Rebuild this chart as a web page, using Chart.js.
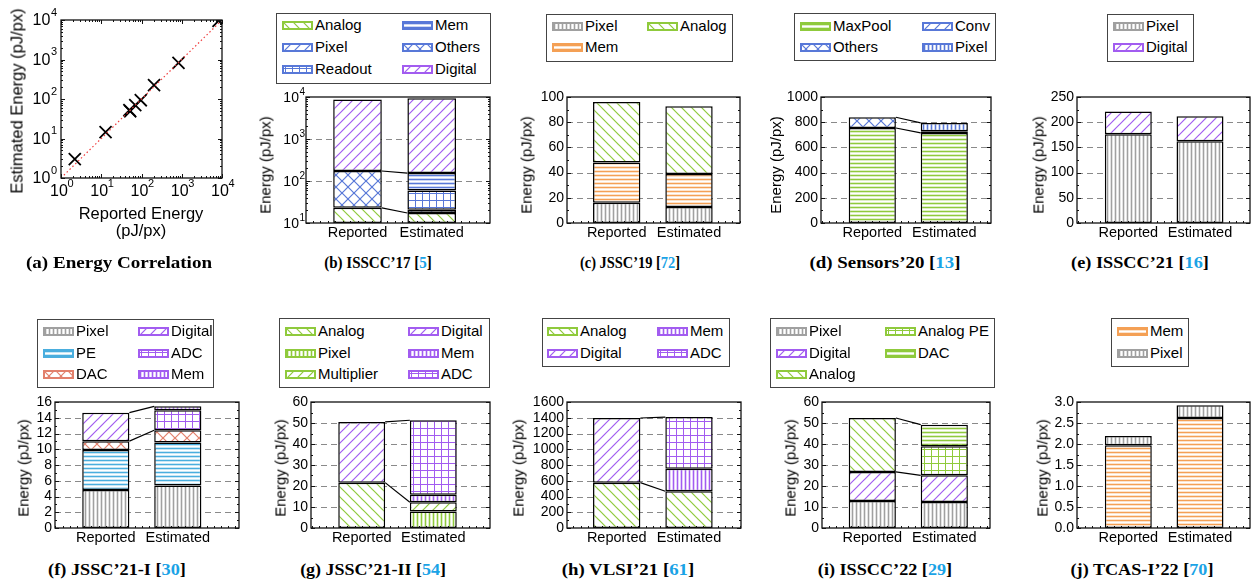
<!DOCTYPE html>
<html>
<head>
<meta charset="utf-8">
<script src="https://cdn.jsdelivr.net/npm/chart.js@4.4.0/dist/chart.umd.min.js"></script>
<style>
body { margin:0; width:1257px; height:585px; position:relative; overflow:hidden; background:#fff; font-family:'Liberation Sans', Arial, sans-serif; color:#000; }
.legend { position:absolute; border:1px solid #444; box-sizing:border-box; background:#fff; }
.lgtext { position:absolute; font-size:15px; line-height:18px; white-space:nowrap; }
.yt { position:absolute; transform:translate(-50%,-50%) rotate(-90deg); white-space:nowrap; font-size:15px; }
.xt { position:absolute; transform:translate(-50%,-50%); white-space:nowrap; font-size:16.5px; }
.cap { position:absolute; white-space:nowrap; font-family:'Liberation Serif', 'Times New Roman', serif; font-weight:bold; font-size:16px; }
.ref { color:#1aa3e6; }
</style>
</head>
<body>
<script>
// ---- data (pJ/px) ----
const barLabels = ['Reported', 'Estimated'];

// (a) energy correlation
const corrReported  = [2.2, 12.8, 50, 52.5, 70, 96, 205, 830, 8200];
const corrEstimated = [3.0, 14.5, 52, 49, 70, 93, 225, 820, 9500];
const corrDiagonal  = [1, 10000];
const logDecades    = [1, 10, 100, 1000, 10000];

// (b) ISSCC'17
const isscc17Parts     = ['Analog', 'Pixel', 'Readout', 'Mem', 'Others', 'Digital'];
const isscc17Reported  = [23, null, null, null, 150, 8530];
const isscc17Estimated = [17.3, 3.5, 39, 95, null, 9150];

// (c) JSSC'19
const jssc19Parts     = ['Pixel', 'Mem', 'Analog'];
const jssc19Reported  = [16, 32, 48];
const jssc19Estimated = [12.7, 26.2, 53.7];

// (d) Sensors'20
const sensors20Parts     = ['MaxPool', 'Others', 'Conv', 'Pixel'];
const sensors20Reported  = [754, 85, null, null];
const sensors20Estimated = [715, null, 14, 65];

// (e) ISSCC'21
const isscc21Parts     = ['Pixel', 'Digital'];
const isscc21Reported  = [176, 45];
const isscc21Estimated = [162, 50];

// (f) JSSC'21-I
const jssc21aParts     = ['Pixel', 'PE', 'DAC', 'Digital', 'ADC', 'Mem'];
const jssc21aReported  = [4.84, 5.05, 1.14, 3.62, null, null];
const jssc21aEstimated = [5.39, 5.47, 1.56, null, 2.53, 0.5];

// (g) JSSC'21-II
const jssc21bParts     = ['Analog', 'Pixel', 'Multiplier', 'Digital', 'Mem', 'ADC'];
const jssc21bReported  = [21.6, null, null, 28.9, null, null];
const jssc21bEstimated = [null, 7.9, 4.4, null, 3.5, 35.5];

// (h) VLSI'21
const vlsi21Parts     = ['Analog', 'Digital', 'Mem', 'ADC'];
const vlsi21Reported  = [576, 821, null, null];
const vlsi21Estimated = [466, null, 287, 656];

// (i) ISSCC'22
const isscc22Parts     = ['Pixel', 'Digital', 'Analog', 'Analog PE', 'DAC'];
const isscc22Reported  = [12.9, 13.8, 25.7, null, null];
const isscc22Estimated = [12.4, 12.7, null, 13.8, 10.3];

// (j) TCAS-I'22
const tcas22Parts     = ['Mem', 'Pixel'];
const tcas22Reported  = [1.97, 0.22];
const tcas22Estimated = [2.62, 0.30];

// ---- styles ----
const FONT = "'Liberation Sans', Arial, sans-serif";
const GREEN = '#8fca3c', BLUE = '#5878d8', PURPLE = '#a25cf0', GRAY = '#a0a0a0',
      ORANGE = '#f4a055', CYAN = '#4aaede', SALMON = '#e2806c';

Chart.defaults.font.family = FONT;
Chart.defaults.color = '#000';

const panels = [
  { parts: isscc17Parts, rep: isscc17Reported, est: isscc17Estimated,
    hatch: [['back', GREEN], ['fwd', BLUE], ['grid', BLUE], ['horiz', BLUE], ['cross', BLUE], ['fwd', PURPLE]],
    y: { type: 'logarithmic', min: 10, max: 10000 }, links: [[4, 3], [0, 0]],
    box: { L: 306, T: 97, R: 490, B: 223, c1: 357.5, c2: 431.7 },
    legend: { x1: 276, y1: 13, x2: 491, y2: 84, cols: [282, 402], rows: [25, 47.5, 69.5], perCol: 3 },
    yTitle: [265, 165], cap: ['(b) ISSCC’17 [', '5', ']', 378, 263, 108] },
  { parts: jssc19Parts, rep: jssc19Reported, est: jssc19Estimated,
    hatch: [['vert', GRAY], ['horiz', ORANGE], ['back', GREEN]],
    y: { type: 'linear', min: 0, max: 100, step: 20 }, links: [],
    box: { L: 567, T: 97, R: 740, B: 223, c1: 616.7, c2: 689 },
    legend: { x1: 546, y1: 14, x2: 733, y2: 62, cols: [552, 647], rows: [26, 47.5], perCol: 2 },
    yTitle: [526, 165], cap: ['(c) JSSC’19 [', '72', ']', 630, 263, 100] },
  { parts: sensors20Parts, rep: sensors20Reported, est: sensors20Estimated,
    hatch: [['horiz', GREEN], ['cross', BLUE], ['fwd', BLUE], ['vert', BLUE]],
    y: { type: 'linear', min: 0, max: 1000, step: 200 }, links: [[1, 3], [0, 0]],
    box: { L: 821, T: 97, R: 991, B: 223, c1: 872.3, c2: 944.3 },
    legend: { x1: 794, y1: 13, x2: 996, y2: 61, cols: [800, 922], rows: [26, 47.5], perCol: 2 },
    yTitle: [775, 165], cap: ['(d) Sensors’20 [', '13', ']', 885, 263, 151] },
  { parts: isscc21Parts, rep: isscc21Reported, est: isscc21Estimated,
    hatch: [['vert', GRAY], ['fwd', PURPLE]],
    y: { type: 'linear', min: 0, max: 250, step: 50 }, links: [],
    box: { L: 1077, T: 97, R: 1250, B: 223, c1: 1128.3, c2: 1200 },
    legend: { x1: 1107, y1: 14, x2: 1194, y2: 62, cols: [1113], rows: [26, 47.5], perCol: 2 },
    yTitle: [1038, 165], cap: ['(e) ISSCC’21 [', '16', ']', 1140, 263, 138] },
  { parts: jssc21aParts, rep: jssc21aReported, est: jssc21aEstimated,
    hatch: [['vert', GRAY], ['horiz', CYAN], ['cross', SALMON], ['fwd', PURPLE], ['grid', PURPLE], ['vert', PURPLE]],
    y: { type: 'linear', min: 0, max: 16, step: 2 }, links: [[3, 5], [2, 2]],
    box: { L: 55, T: 402, R: 239, B: 528, c1: 105.8, c2: 177.8 },
    legend: { x1: 37, y1: 319, x2: 214, y2: 388, cols: [43, 138], rows: [331.5, 353, 374.5], perCol: 3 },
    yTitle: [23, 468], cap: ['(f) JSSC’21-I [', '30', ']', 117, 570, 138] },
  { parts: jssc21bParts, rep: jssc21bReported, est: jssc21bEstimated,
    hatch: [['back', GREEN], ['vert', GREEN], ['fwd', GREEN], ['fwd', PURPLE], ['vert', PURPLE], ['grid', PURPLE]],
    y: { type: 'linear', min: 0, max: 60, step: 10 }, links: [[3, 5], [0, 2]],
    box: { L: 311, T: 402, R: 490, B: 528, c1: 361.7, c2: 433.3 },
    legend: { x1: 279, y1: 318, x2: 490, y2: 388, cols: [285, 408], rows: [331.5, 353, 374.5], perCol: 3 },
    yTitle: [280, 468], cap: ['(g) JSSC’21-II [', '54', ']', 373, 570, 146] },
  { parts: vlsi21Parts, rep: vlsi21Reported, est: vlsi21Estimated,
    hatch: [['back', GREEN], ['fwd', PURPLE], ['vert', PURPLE], ['grid', PURPLE]],
    y: { type: 'linear', min: 0, max: 1600, step: 200 }, links: [[1, 3], [0, 0]],
    box: { L: 567, T: 402, R: 741, B: 528, c1: 616.7, c2: 689 },
    legend: { x1: 542, y1: 318, x2: 730, y2: 367, cols: [547, 657], rows: [331.5, 353], perCol: 2 },
    yTitle: [518, 468], cap: ['(h) VLSI’21 [', '61', ']', 628, 570, 133] },
  { parts: isscc22Parts, rep: isscc22Reported, est: isscc22Estimated,
    hatch: [['vert', GRAY], ['fwd', PURPLE], ['back', GREEN], ['grid', GREEN], ['horiz', GREEN]],
    y: { type: 'linear', min: 0, max: 60, step: 10 }, links: [[2, 4], [1, 1]],
    box: { L: 822, T: 402, R: 990, B: 528, c1: 872.3, c2: 944.3 },
    legend: { x1: 770, y1: 318, x2: 995, y2: 388, cols: [776, 885], rows: [331.5, 353, 374.5], perCol: 3 },
    yTitle: [790, 468], cap: ['(i) ISSCC’22 [', '29', ']', 885, 570, 134] },
  { parts: tcas22Parts, rep: tcas22Reported, est: tcas22Estimated,
    hatch: [['horiz', ORANGE], ['vert', GRAY]],
    y: { type: 'linear', min: 0, max: 3, step: 0.5, decimals: 1 }, links: [],
    box: { L: 1077, T: 402, R: 1250, B: 528, c1: 1128.3, c2: 1200 },
    legend: { x1: 1111, y1: 318, x2: 1189, y2: 367, cols: [1117], rows: [331.5, 353], perCol: 2 },
    yTitle: [1042, 468], cap: ['(j) TCAS-I’22 [', '70', ']', 1142, 570, 143] },
];

// ---- helpers ----
function hatchTile(kind, color) {
  const s = { back: 10, fwd: 10, cross: 12, vert: 4, horiz: 4, grid: 7 }[kind];
  const c = document.createElement('canvas');
  c.width = c.height = s;
  const g = c.getContext('2d');
  g.fillStyle = '#fff';
  g.fillRect(0, 0, s, s);
  g.strokeStyle = color;
  g.lineWidth = 1.2;
  const line = (x1, y1, x2, y2) => { g.beginPath(); g.moveTo(x1, y1); g.lineTo(x2, y2); g.stroke(); };
  if (kind === 'fwd' || kind === 'cross') { line(-1, s + 1, s + 1, -1); line(-1, 1, 1, -1); line(s - 1, s + 1, s + 1, s - 1); }
  if (kind === 'back' || kind === 'cross') { line(-1, -1, s + 1, s + 1); line(s - 1, -1, s + 1, 1); line(-1, s - 1, 1, s + 1); }
  const m = Math.floor(s / 2) + 0.5;
  g.lineWidth = kind === 'grid' ? 1 : 1.6;
  if (kind === 'vert' || kind === 'grid') line(m, 0, m, s);
  if (kind === 'horiz' || kind === 'grid') line(0, m, s, m);
  return c;
}

function addDiv(cls, html, style) {
  const d = document.createElement('div');
  d.className = cls;
  d.innerHTML = html;
  Object.assign(d.style, style);
  document.body.appendChild(d);
  return d;
}

function makeCanvas(x, y, w, h) {
  const cv = document.createElement('canvas');
  cv.width = w; cv.height = h;
  Object.assign(cv.style, { position: 'absolute', left: x + 'px', top: y + 'px', width: w + 'px', height: h + 'px' });
  document.body.appendChild(cv);
  return cv;
}

function addLegend(p) {
  const lg = p.legend;
  addDiv('legend', '', { left: lg.x1 + 'px', top: lg.y1 + 'px', width: (lg.x2 - lg.x1) + 'px', height: (lg.y2 - lg.y1) + 'px' });
  p.parts.forEach((name, i) => {
    const cx = lg.cols[Math.floor(i / lg.perCol)], cy = lg.rows[i % lg.perCol];
    const sw = makeCanvas(cx, Math.round(cy - 4.5), 31, 9);
    const g = sw.getContext('2d');
    g.fillStyle = g.createPattern(hatchTile(p.hatch[i][0], p.hatch[i][1]), 'repeat');
    g.fillRect(0, 0, 31, 9);
    g.strokeStyle = p.hatch[i][1];
    g.lineWidth = 2;
    g.strokeRect(1, 1, 29, 7);
    addDiv('lgtext', name, { left: (cx + 33) + 'px', top: (cy - 9.5) + 'px' });
  });
}

function addCaption(c) {
  const d = addDiv('cap', c[0] + '<span class="ref">' + c[1] + '</span>' + c[2], {});
  const k = c[5] / d.offsetWidth;
  d.style.left = c[3] + 'px';
  d.style.top = c[4] + 'px';
  d.style.transform = 'translate(-50%,-50%) scaleX(' + k.toFixed(3) + ')';
}

const cumulative = (arr, k) => arr.slice(0, k + 1).reduce((s, v) => s + (v || 0), 0);

function logLabelsY(ctx, scale, a, size, supSize, gap, supDy) {
  ctx.fillStyle = '#000';
  ctx.textBaseline = 'middle';
  scale.ticks.forEach(t => {
    const py = scale.getPixelForValue(t.value);
    const e = String(Math.round(Math.log10(t.value)));
    ctx.font = supSize + 'px ' + FONT;
    const sx = a.left - gap - ctx.measureText(e).width;
    ctx.textAlign = 'left';
    ctx.fillText(e, sx, py - supDy);
    ctx.font = size + 'px ' + FONT;
    ctx.textAlign = 'right';
    ctx.fillText('10', sx - 0.5, py + 1);
  });
}

function logLabelsX(ctx, scale, a, size, supSize) {
  ctx.fillStyle = '#000';
  ctx.textBaseline = 'middle';
  scale.ticks.forEach(t => {
    const px = scale.getPixelForValue(t.value) - 2;
    const e = String(Math.round(Math.log10(t.value)));
    ctx.font = size + 'px ' + FONT;
    const w = ctx.measureText('10').width;
    ctx.textAlign = 'center';
    ctx.fillText('10', px, a.bottom + 14);
    ctx.font = supSize + 'px ' + FONT;
    ctx.textAlign = 'left';
    ctx.fillText(e, px + w / 2 - 0.5, a.bottom + 5.5);
  });
}

function tickMarks(ctx, a, scale, values, len, vertical, both) {
  values.forEach(v => {
    if (vertical) {
      const py = Math.round(scale.getPixelForValue(v)) + 0.5;
      ctx.beginPath(); ctx.moveTo(a.left, py); ctx.lineTo(a.left + len, py);
      if (both) { ctx.moveTo(a.right, py); ctx.lineTo(a.right - len, py); }
      ctx.stroke();
    } else {
      const px = Math.round(scale.getPixelForValue(v)) + 0.5;
      ctx.beginPath(); ctx.moveTo(px, a.bottom); ctx.lineTo(px, a.bottom - len);
      if (both) { ctx.moveTo(px, a.top); ctx.lineTo(px, a.top + len); }
      ctx.stroke();
    }
  });
}

function logMinors(min, max) {
  const out = [];
  for (let d = min; d < max; d *= 10) for (let k = 2; k <= 9; k++) out.push(d * k);
  return out;
}

function frame(ctx, a) {
  ctx.strokeStyle = '#111';
  ctx.lineWidth = 1.3;
  ctx.strokeRect(a.left, a.top, a.right - a.left, a.bottom - a.top);
}

// ---- stacked bar panels ----
function buildBarPanel(p) {
  const b = p.box, padL = 48, padT = 12, padR = 4, padB = 26;
  const W = b.R - b.L + padL + padR, H = b.B - b.T + padT + padB;
  const cv = makeCanvas(b.L - padL, b.T - padT, W, H);
  const ctx = cv.getContext('2d');
  const unit = b.c2 - b.c1;
  const isLog = p.y.type === 'logarithmic';

  const datasets = p.parts.map((name, i) => ({
    label: name,
    data: [p.rep[i], p.est[i]],
    backgroundColor: ctx.createPattern(hatchTile(p.hatch[i][0], p.hatch[i][1]), 'repeat'),
    borderColor: '#000',
    borderWidth: 1.5,
    borderSkipped: false,
    inflateAmount: 0,
    categoryPercentage: 1,
    barPercentage: 0.655,
  }));

  const yScale = {
    type: p.y.type, min: p.y.min, max: p.y.max, stacked: true,
    grid: { display: false, drawTicks: false }, border: { display: false },
    afterFit: s => { s.width = padL; },
    ticks: {
      font: { size: 14 }, padding: 3, color: '#000', autoSkip: false,
      stepSize: p.y.step,
      callback: v => isLog ? '' : v.toFixed(p.y.decimals || 0),
    },
  };
  if (isLog) yScale.afterBuildTicks = s => { s.ticks = logDecades.filter(v => v >= p.y.min).map(v => ({ value: v })); };

  const deco = {
    id: 'deco',
    beforeDatasetsDraw(chart) {
      const { ctx: c, chartArea: a, scales: { y } } = chart;
      c.save();
      c.strokeStyle = '#8a8a8a';
      c.lineWidth = 1;
      c.setLineDash([6, 4]);
      y.ticks.forEach(t => {
        if (t.value <= y.min || t.value >= y.max) return;
        const py = Math.round(y.getPixelForValue(t.value)) + 0.5;
        c.beginPath(); c.moveTo(a.left, py); c.lineTo(a.right, py); c.stroke();
      });
      c.restore();
    },
    afterDatasetsDraw(chart) {
      const { ctx: c, chartArea: a, scales: { x, y } } = chart;
      c.save();
      // connectors between matching stack levels
      c.strokeStyle = '#000';
      c.lineWidth = 1.2;
      p.links.forEach(([ri, ei]) => {
        const rb = chart.getDatasetMeta(ri).data[0], eb = chart.getDatasetMeta(ei).data[1];
        c.beginPath();
        c.moveTo(rb.x + rb.width / 2, y.getPixelForValue(cumulative(p.rep, ri)));
        c.lineTo(eb.x - eb.width / 2, y.getPixelForValue(cumulative(p.est, ei)));
        c.stroke();
      });
      frame(c, a);
      c.lineWidth = 1;
      const major = y.ticks.map(t => t.value);
      const minor = isLog ? logMinors(p.y.min, p.y.max)
        : major.slice(1).map((v, i) => (v + major[i]) / 2);
      tickMarks(c, a, y, major, 4, true, true);
      tickMarks(c, a, y, minor, 2, true, true);
      const xm = [];
      for (let v = Math.ceil(x.min * 10); v <= Math.floor(x.max * 10); v++) xm.push(v / 10);
      tickMarks(c, a, x, xm, 2, false, false);
      if (isLog) logLabelsY(c, y, a, 14, 10, 1, 5);
      c.restore();
    },
  };

  new Chart(cv, {
    type: 'bar',
    data: { labels: [1, 2], datasets },
    options: {
      responsive: false, animation: false, events: [],
      layout: { padding: { top: padT, right: padR, left: 0, bottom: 0 } },
      plugins: { legend: { display: false }, tooltip: { enabled: false } },
      scales: {
        x: {
          type: 'linear', stacked: true, offset: false,
          min: 1 - (b.c1 - b.L) / unit, max: 2 + (b.R - b.c2) / unit,
          grid: { display: false, offset: false, drawTicks: false }, border: { display: false },
          afterBuildTicks: s => { s.ticks = [{ value: 1 }, { value: 2 }]; },
          afterFit: s => { s.height = padB; },
          ticks: { callback: v => barLabels[v - 1], font: { size: 14.5 }, padding: 1, maxRotation: 0, autoSkip: false, color: '#000' },
        },
        y: yScale,
      },
    },
    plugins: [deco],
  });

  addLegend(p);
  addDiv('yt', 'Energy (pJ/px)', { left: p.yTitle[0] + 'px', top: p.yTitle[1] + 'px' });
  addCaption(p.cap);
}

// ---- (a) correlation scatter ----
function buildScatter() {
  const L = 61, T = 20, R = 222, B = 178, padL = 46, padT = 16, padR = 18, padB = 26;
  const W = R - L + padL + padR, H = B - T + padT + padB;
  const cv = makeCanvas(L - padL, T - padT, W, H);
  const logAxis = {
    type: 'logarithmic', min: 1, max: 10000,
    grid: { display: false, drawTicks: false }, border: { display: false },
    afterBuildTicks: s => { s.ticks = logDecades.map(v => ({ value: v })); },
    ticks: { callback: () => '' },
  };
  const deco = {
    id: 'deco',
    afterDatasetsDraw(chart) {
      const { ctx: c, chartArea: a, scales: { x, y } } = chart;
      c.save();
      frame(c, a);
      c.lineWidth = 1;
      tickMarks(c, a, y, logDecades, 4, true, true);
      tickMarks(c, a, y, logMinors(1, 10000), 2, true, true);
      tickMarks(c, a, x, logDecades, 4, false, true);
      tickMarks(c, a, x, logMinors(1, 10000), 2, false, true);
      logLabelsY(c, y, a, 16, 11, 4, 7.5);
      logLabelsX(c, x, a, 16, 11);
      c.restore();
    },
  };
  new Chart(cv, {
    type: 'scatter',
    data: {
      datasets: [
        { data: corrDiagonal.map(v => ({ x: v, y: v })), showLine: true, borderColor: '#f03c3c', borderWidth: 1.2,
          borderDash: [1.5, 2.5], pointRadius: 0 },
        { data: corrReported.map((v, i) => ({ x: v, y: corrEstimated[i] })), pointStyle: 'crossRot', pointRadius: 8.5,
          borderColor: '#000', backgroundColor: '#000', borderWidth: 1.8 },
      ],
    },
    options: {
      responsive: false, animation: false, events: [],
      layout: { padding: { top: padT, right: padR, left: 0, bottom: 0 } },
      plugins: { legend: { display: false }, tooltip: { enabled: false } },
      scales: {
        x: Object.assign({}, logAxis, { afterFit: s => { s.height = padB; } }),
        y: Object.assign({}, logAxis, { afterFit: s => { s.width = padL; } }),
      },
    },
    plugins: [deco],
  });
  addDiv('yt', 'Estimated Energy (pJ/px)', { left: '17px', top: '101px', fontSize: '16.5px' });
  addDiv('xt', 'Reported Energy', { left: '141px', top: '213px' });
  addDiv('xt', '(pJ/px)', { left: '141px', top: '230px' });
  const d = addDiv('cap', '(a) Energy Correlation', {});
  const k = 186 / d.offsetWidth;
  Object.assign(d.style, { left: '119px', top: '263px', transform: 'translate(-50%,-50%) scaleX(' + k.toFixed(3) + ')' });
}

buildScatter();
panels.forEach(buildBarPanel);
</script>
</body>
</html>
